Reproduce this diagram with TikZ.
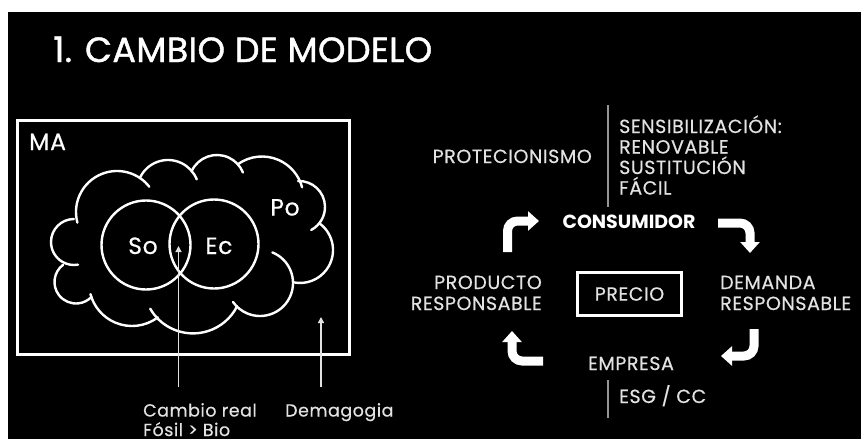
\documentclass[tikz,border=0pt]{standalone}
\usepackage{fontspec}
\setmainfont{Poppins}
\newfontfamily\regf{Poppins}[FakeBold=0.5,LetterSpace=3]
\newfontfamily\titf{Poppins}[FakeBold=1.2,LetterSpace=1]
\usetikzlibrary{arrows.meta}
\definecolor{lblc}{RGB}{226,226,226}
\definecolor{sepc}{RGB}{150,150,150}
\newcommand\cbump[5]{\draw[cloudline] (#1,-#2) ++(#4:#3) arc[start angle=#4, end angle=#5, radius=#3];}
\begin{document}
\begin{tikzpicture}[x=1pt,y=1pt,
  lbl/.style={text=lblc, inner sep=0pt, font=\regf\fontsize{19}{22}\selectfont},
  small/.style={text=lblc, inner sep=0pt, font=\regf\fontsize{17.5}{20}\selectfont},
  venn/.style={text=white, inner sep=0pt, font=\regf\fontsize{23.5}{26}\selectfont},
  cloudline/.style={white, line width=2.4pt, line cap=round},
  bigarrow/.style={white, line width=9pt, rounded corners=10pt, -{Triangle[width=19pt,length=11pt]}},
  thinarrow/.style={draw=lblc, line width=1.3pt, -{Triangle[width=6pt,length=6pt]}},
  sepline/.style={draw=sepc, line width=1.2pt}]
\useasboundingbox (0,0) rectangle (861,-439);
\fill[white] (0,0) rectangle (861,-439);
\fill[black] (8,-12) rectangle (861,-439);
% title
\node[anchor=base west, inner sep=0pt, text=white, font=\titf\fontsize{35}{40}\selectfont] (title) at (53,-62) {1. CAMBIO DE MODELO};
% left panel
\draw[white, line width=2.6pt] (17.5,-120.5) rectangle (349.5,-354.5);
\node[venn, anchor=base west] (ma) at (29,-150) {MA};
% cloud
\cbump{117}{212}{41}{195}{38}
\cbump{168}{191}{31}{155}{22}
\cbump{217}{183}{28}{155}{22}
\cbump{262}{198}{41.5}{126}{15}
\cbump{299}{207}{26}{92}{-62}
\cbump{300}{250}{33}{54}{-102}
\cbump{260}{283}{33}{68}{-145}
\cbump{193}{284}{49.4}{-27}{-150}
\cbump{132}{283}{43}{-53}{-165}
\cbump{76}{282}{21.5}{127}{316}
\cbump{74}{242}{23}{90}{280}
% circles
\draw[white, line width=2.4pt] (146,-245) circle[radius=44.5];
\draw[white, line width=2.4pt] (214,-244) circle[radius=44.5];
\node[venn, anchor=base] (so) at (143,-254) {So};
\node[venn, anchor=base] (ec) at (219,-254) {Ec};
\node[venn, anchor=base] (po) at (285,-215.5) {Po};
% pointers
\coordinate (c1a) at (178.5,-387);
\coordinate (c1b) at (178.5,-246);
\coordinate (c2a) at (321,-387);
\coordinate (c2b) at (321,-317);
\draw[thinarrow] (c1a) -- (c1b);
\draw[thinarrow] (c2a) -- (c2b);
\node[small, anchor=base west] (cr) at (143,-416.5) {Cambio real};
\node[small, anchor=base west] (fb) at (143,-436) {Fósil > Bio};
\node[small, anchor=base west] (dem) at (285,-416.5) {Demagogia};
% right panel
\node[lbl, anchor=base east] (prot) at (592,-163) {PROTECIONISMO};
\coordinate (v1a) at (608,-105);
\coordinate (v1b) at (608,-207);
\draw[sepline] (v1a) -- (v1b);
\node[lbl, anchor=base west] (s1) at (619,-133) {SENSIBILIZACIÓN:};
\node[lbl, anchor=base west] (s2) at (619,-153.5) {RENOVABLE};
\node[lbl, anchor=base west] (s3) at (619,-174) {SUSTITUCIÓN};
\node[lbl, anchor=base west] (s4) at (619,-194.5) {FÁCIL};
\node[anchor=base, inner sep=0pt, text=white, font=\fontsize{19}{21}\bfseries] (cons) at (629,-228) {CONSUMIDOR};
\node[lbl, anchor=base east] (p1) at (542,-289) {PRODUCTO};
\node[lbl, anchor=base east] (p2) at (542,-310) {RESPONSABLE};
\node[lbl, draw=white, line width=2.5pt, minimum width=104pt, minimum height=43pt] (precio) at (629.5,-294) {PRECIO};
\node[lbl, anchor=base west] (d1) at (720,-289) {DEMANDA};
\node[lbl, anchor=base west] (d2) at (720,-310) {RESPONSABLE};
\node[lbl, anchor=base] (emp) at (631,-370) {EMPRESA};
\coordinate (v2a) at (608,-380);
\coordinate (v2b) at (608,-418);
\draw[sepline] (v2a) -- (v2b);
\node[lbl, anchor=base west] (esg) at (619,-403) {ESG / CC};
% cycle arrows
\coordinate (a1s) at (507.5,-252);
\coordinate (a1c) at (507.5,-221);
\coordinate (a1e) at (539,-221);
\coordinate (a2s) at (718,-223);
\coordinate (a2c) at (750,-223);
\coordinate (a2e) at (750,-253);
\coordinate (a3s) at (754,-329);
\coordinate (a3c) at (754,-356);
\coordinate (a3e) at (721,-356);
\coordinate (a4s) at (543,-361);
\coordinate (a4c) at (512,-361);
\coordinate (a4e) at (512,-331);
\draw[bigarrow] (a1s) -- (a1c) -- (a1e);
\draw[bigarrow] (a2s) -- (a2c) -- (a2e);
\draw[bigarrow] (a3s) -- (a3c) -- (a3e);
\draw[bigarrow] (a4s) -- (a4c) -- (a4e);
\end{tikzpicture}
\end{document}
